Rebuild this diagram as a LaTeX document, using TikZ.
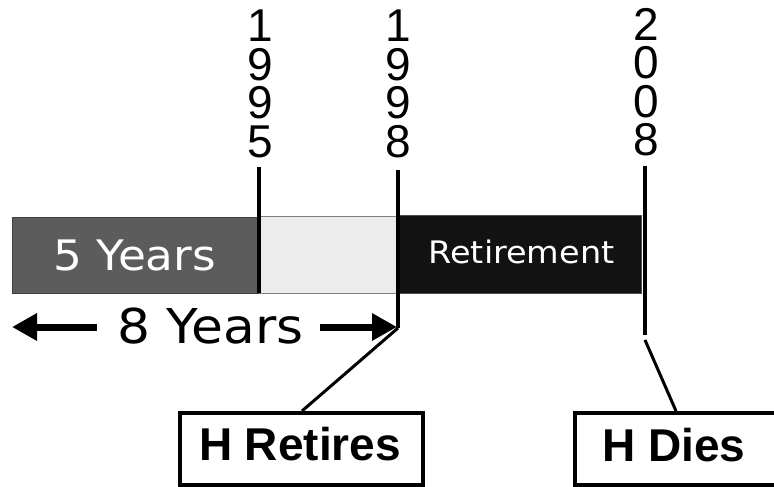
\documentclass[tikz,border=0pt]{standalone}
\usepackage{fontspec}
\setmainfont[FakeStretch=1.08]{DejaVu Sans}
\newfontfamily\digitfont{Liberation Sans}
\newfontfamily\boldfont{Liberation Sans}
\usetikzlibrary{arrows.meta}
\definecolor{darkbar}{HTML}{5C5C5C}
\definecolor{lightbar}{HTML}{ECECEC}
\definecolor{blackbar}{HTML}{121212}
\tikzset{
  bar/.style={draw, line width=1pt, inner sep=0pt, outer sep=0pt},
  tick/.style={line width=4.5pt},
  leader/.style={line width=3pt},
  yearlabel/.style={inner sep=0pt, anchor=north, align=center, font=\digitfont\fontsize{46}{38.5}\selectfont},
  eventbox/.style={draw, line width=4pt, inner sep=0pt, fill=white},
  eventtext/.style={inner sep=0pt, anchor=base, font=\boldfont\bfseries\fontsize{46}{46}\selectfont},
  bigarrow/.style={line width=7pt, -{Triangle[length=25pt,width=26pt]}},
}
\begin{document}
\begin{tikzpicture}[x=1pt,y=-1pt]
\useasboundingbox (0,0) rectangle (774,487);
% bars
\filldraw[bar, fill=darkbar, draw=darkbar!70!black] (12,217) rectangle (259,293);
\filldraw[bar, fill=lightbar, draw=gray] (259,216) rectangle (398,293);
\filldraw[bar, fill=blackbar, draw=gray!60!black] (398,215) rectangle (641,293);
\node[inner sep=0pt, anchor=base, text=white, font=\fontsize{42}{42}\selectfont] (five) at (134.5,270) {5 Years};
\node[inner sep=0pt, anchor=base, text=white, font=\fontsize{31}{31}\selectfont] (ret) at (521.5,263) {Retirement};
% year labels
\node[yearlabel] (y95) at (260,10) {1\\9\\9\\5};
\node[yearlabel] (y98) at (398,10) {1\\9\\9\\8};
\node[yearlabel] (y08) at (646,8) {2\\0\\0\\8};
% ticks
\coordinate (t95a) at (259,167);
\coordinate (t95b) at (259,293);
\coordinate (t98a) at (398,170);
\coordinate (t98b) at (398,328);
\coordinate (t08a) at (645,166);
\coordinate (t08b) at (645,335);
\coordinate (t08c) at (645,340);
\draw[tick] (t95a) -- (t95b);
\draw[tick] (t98a) -- (t98b);
\draw[tick] (t08a) -- (t08b);
% 8 years span
\node[inner sep=0pt, anchor=base, font=\fontsize{48}{48}\selectfont] (eight) at (210.5,343) {8 Years};
\coordinate (la) at (97,327);
\coordinate (lb) at (12,327);
\coordinate (ra) at (320,327);
\coordinate (rb) at (397,327);
\draw[bigarrow] (la) -- (lb);
\draw[bigarrow] (ra) -- (rb);
% event boxes
\node[eventbox, minimum width=243pt, minimum height=72pt] (hr) at (301.5,449) {};
\node[eventtext] (hrt) at (300,460) {H Retires};
\node[eventbox, minimum width=207pt, minimum height=72pt, anchor=west] (hd) at (573,449) {};
\node[eventtext] (hdt) at (674,461) {H Dies};
% leaders
\draw[leader] (t98b) -- (hr.north -| 302,0);
\draw[leader] (t08c) -- (hd.north -| 676,0);
\end{tikzpicture}
\end{document}
